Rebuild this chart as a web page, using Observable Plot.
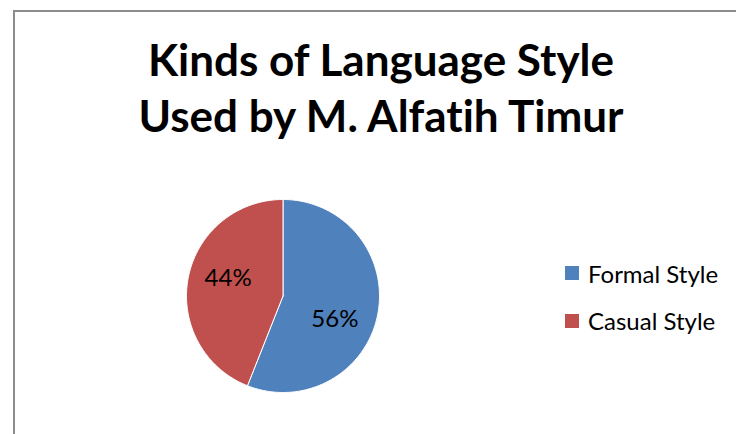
<!DOCTYPE html>
<html>
<head>
<meta charset="utf-8">
<script src="https://cdn.jsdelivr.net/npm/d3@7"></script>
<script src="https://cdn.jsdelivr.net/npm/@observablehq/plot@0.6"></script>
<style>
  html, body { margin: 0; padding: 0; background: #fff; overflow: hidden; }
  #wrap { position: relative; width: 736px; height: 434px; overflow: hidden; background: #fff; }
  #frame { position: absolute; left: 13px; top: 10px; width: 800px; height: 500px;
           border-left: 2px solid #8c8c8c; border-top: 2px solid #8c8c8c; box-sizing: border-box; }
  #title { position: absolute; left: 0; width: 762px; top: 31px; text-align: center;
           font-family: Lato, "Open Sans", sans-serif; font-weight: bold; font-size: 44px;
           line-height: 56px; color: #000; font-variant-ligatures: none; }
  #chart { position: absolute; left: 0; top: 0; }
  #legend { position: absolute; left: 565px; top: 250px; }
  #legend .lg-swatch { height: 46.5px; display: flex; align-items: center; margin: 0; }
  #legend .lg-swatch svg { margin-right: 9px; }
</style>
</head>
<body>
<div id="wrap">
  <div id="frame"></div>
  <div id="title">Kinds of Language Style<br>Used by M. Alfatih Timur</div>
  <div id="chart"></div>
  <div id="legend"></div>
</div>
<script>
const categories = ["Formal Style", "Casual Style"];
const values = [56, 44];
const labels = ["56%", "44%"];
const colors = ["#4F81BD", "#C0504D"];

const total = d3.sum(values);
// clockwise from 12 o'clock
const slices = [];
let acc = 0;
categories.forEach((c, i) => {
  const a0 = acc / total * 2 * Math.PI;
  acc += values[i];
  const a1 = acc / total * 2 * Math.PI;
  slices.push({cat: c, value: values[i], label: labels[i], a0, a1, mid: (a0 + a1) / 2});
});

// polygon outline of each slice in unit-circle coordinates (y up)
const outline = [];
slices.forEach(s => {
  outline.push({cat: s.cat, x: 0, y: 0});
  const n = Math.max(2, Math.ceil((s.a1 - s.a0) / (Math.PI / 180)));
  for (let k = 0; k <= n; k++) {
    const a = s.a0 + (s.a1 - s.a0) * k / n;
    outline.push({cat: s.cat, x: Math.sin(a), y: Math.cos(a)});
  }
  outline.push({cat: s.cat, x: 0, y: 0});
});

const labelPos = slices.map(s => ({...s, x: 0.6 * Math.sin(s.mid), y: 0.6 * Math.cos(s.mid)}));

const chart = Plot.plot({
  width: 736,
  height: 434,
  margin: 0,
  x: {type: "linear", domain: [-1, 1], range: [186, 379], axis: null},
  y: {type: "linear", domain: [-1, 1], range: [392, 199], axis: null},
  color: {domain: categories, range: colors},
  style: {background: "transparent", fontFamily: "Lato, 'Open Sans', sans-serif"},
  marks: [
    Plot.line(outline, {x: "x", y: "y", z: "cat", fill: "cat", stroke: "white", strokeWidth: 1, strokeLinejoin: "round", curve: "linear"}),
    Plot.text(labelPos.filter(d => d.cat === categories[0]), {x: "x", y: "y", text: "label", fontSize: 24, fill: "black", dx: -5, dy: 12}),
    Plot.text(labelPos.filter(d => d.cat === categories[1]), {x: "x", y: "y", text: "label", fontSize: 24, fill: "black", dx: 2, dy: -7})
  ]
});
document.getElementById("chart").appendChild(chart);

const legend = Plot.legend({
  color: {domain: categories, range: colors},
  legend: "swatches",
  columns: 1,
  swatchSize: 14,
  className: "lg",
  style: {fontFamily: "Lato, 'Open Sans', sans-serif", fontSize: "24px", color: "#000"}
});
document.getElementById("legend").appendChild(legend);
</script>
</body>
</html>
